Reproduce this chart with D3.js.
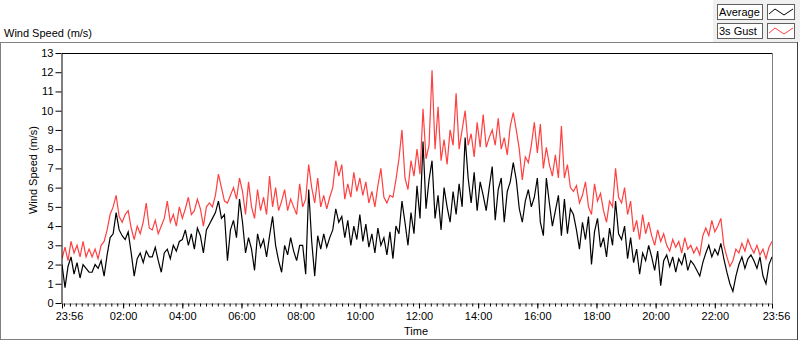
<!DOCTYPE html>
<html>
<meta charset="utf-8">
<head>
  <script src="https://d3js.org/d3.v7.min.js"></script>
  <style>
    body { margin:0; background:#fff; }
    text { font-family: "Liberation Sans", Arial, sans-serif; font-size:11px; fill:#000; }
  </style>
</head>
<body>
<script>
    // readings, one every ~6 min from 23:56 to 23:56 next day
    var average = [
	2.0,0.8,1.9,2.4,1.5,2.1,1.3,2.0,1.8,1.6,
	1.6,2.0,1.8,2.2,1.4,2.5,3.4,3.6,4.7,3.8,
	3.5,3.3,3.7,2.6,1.4,2.3,2.6,2.1,2.7,2.4,
	2.4,2.9,2.2,1.6,2.6,2.8,2.3,3.0,2.7,3.2,
	3.3,3.8,3.0,3.6,2.8,3.9,3.5,2.6,3.8,4.1,
	4.4,4.7,5.3,4.4,4.6,2.2,3.8,4.3,3.4,5.4,
	4.2,2.6,3.4,2.8,1.7,3.6,2.9,3.3,2.4,3.5,
	4.5,3.0,2.2,1.6,3.0,2.5,3.4,2.7,2.2,3.0,
	3.0,1.5,5.9,3.2,1.4,3.5,2.8,3.6,2.9,3.4,
	3.8,4.9,4.2,4.5,3.4,4.3,3.0,4.0,3.3,4.6,
	3.2,4.1,2.9,3.6,2.6,3.9,3.0,3.4,2.5,3.7,
	2.3,4.0,3.6,5.3,4.2,3.0,4.7,3.6,6.1,4.4,
	8.4,4.9,6.4,7.4,4.4,5.6,3.8,6.0,5.0,4.2,
	5.8,4.6,6.2,5.0,8.6,6.5,5.2,6.8,4.8,6.3,
	5.6,4.8,6.0,7.1,4.3,5.9,6.5,4.2,5.8,6.3,
	7.3,6.4,4.9,4.2,5.3,5.9,5.0,5.5,6.5,4.2,
	3.5,6.5,5.2,4.0,4.8,5.6,3.5,5.4,3.6,4.9,
	4.6,3.8,2.8,4.2,3.3,4.5,2.0,3.7,4.4,2.9,
	3.4,2.4,3.9,3.0,5.3,3.6,3.3,4.0,2.3,3.4,
	2.1,2.8,1.5,2.6,2.2,3.0,2.4,1.7,2.7,0.9,
	2.2,2.5,1.9,2.4,1.6,2.3,2.0,2.6,1.7,2.2,
	2.0,1.7,1.4,2.1,2.6,3.0,2.4,2.8,2.5,3.1,
	2.3,1.6,1.0,0.6,1.4,2.0,2.4,1.8,2.3,2.5,
	2.2,1.8,2.4,1.4,1.0,2.0,2.4
    ];
    var gust = [
	2.3,2.9,2.2,3.2,2.6,3.0,2.4,3.2,2.4,2.8,
	2.4,2.8,2.3,3.0,3.2,3.8,4.6,5.0,5.6,4.5,
	4.2,4.6,4.8,3.9,3.3,4.0,3.6,4.2,5.2,3.9,
	3.8,4.3,3.6,4.0,4.4,5.3,4.2,4.6,4.0,5.0,
	4.4,4.9,5.5,4.6,4.8,5.4,4.9,4.0,5.0,5.2,
	5.0,5.6,6.7,6.0,5.3,5.2,5.6,6.0,5.4,6.5,
	5.8,4.6,6.3,5.0,4.4,5.9,4.8,5.5,4.6,6.6,
	5.0,6.0,4.8,5.3,5.9,4.8,5.4,5.0,4.6,6.2,
	5.0,5.4,7.2,6.0,5.2,6.5,5.0,5.6,4.9,5.5,
	6.0,7.4,6.6,7.2,5.4,6.2,5.5,6.8,5.8,6.5,
	5.6,6.3,5.2,5.8,5.0,6.1,7.0,5.5,5.2,5.6,
	5.5,6.4,7.5,9.0,6.5,5.9,7.4,6.6,8.0,6.7,
	10.1,7.5,8.2,12.1,8.0,10.2,7.4,8.5,7.2,9.0,
	8.2,10.9,8.0,9.0,10.0,8.2,8.8,7.6,9.4,8.1,
	9.8,8.1,8.6,9.0,8.2,9.6,8.0,8.6,7.7,9.2,
	9.9,9.0,8.0,6.4,7.6,7.3,8.2,9.4,7.8,9.3,
	7.0,8.1,7.2,6.6,7.7,6.5,9.2,6.5,7.2,6.0,
	5.8,6.1,5.2,5.6,6.3,5.0,4.6,6.2,5.3,5.7,
	4.8,4.2,5.3,5.0,7.0,5.5,5.2,6.0,4.6,5.3,
	3.7,4.3,3.3,4.6,3.6,4.2,3.5,3.0,3.8,3.2,
	3.6,3.0,2.7,3.3,2.9,3.2,2.6,3.4,2.8,3.0,
	2.6,2.9,2.5,3.5,3.9,3.5,4.3,3.7,4.0,4.4,
	3.0,2.4,1.9,2.2,2.8,2.6,3.1,2.7,3.3,2.9,
	2.6,3.0,2.5,2.8,2.3,2.9,3.2
    ];
    var seriesNames = ['Average', '3s Gust'];
    var seriesColors = ['#000000', '#ff4040'];
    var yTicks = d3.range(0, 14);

    var W = 800, H = 342;
    var pL = 62, pR = 772, pT = 53, pB = 303;

    var t0 = new Date(2020, 0, 1, 23, 56);
    var t1 = d3.timeMinute.offset(t0, 1440);
    var step = 1440 / (average.length - 1);
    function timeAt(i) { return new Date(t0.getTime() + i * step * 60000) }

    var x = d3.scaleTime().domain([t0, t1]).range([pL, pR]);
    var y = d3.scaleLinear().domain([0, 13]).range([pB, pT]);

    var svg = d3.select('body').append('svg').attr('width', W).attr('height', H);

    // panel frame + legend area
    svg.append('rect').attr('x', 713).attr('y', 0).attr('width', 87).attr('height', 42).attr('fill', '#f0f0f0');
    svg.append('rect').attr('x', 0.5).attr('y', 42.5).attr('width', 797).attr('height', 297)
	.attr('fill', 'none').attr('stroke', '#808080');
    svg.append('line').attr('x1', 797.5).attr('x2', 797.5).attr('y1', 42).attr('y2', 340).attr('stroke', '#404040');

    svg.append('text').attr('x', 4).attr('y', 37).text('Wind Speed (m/s)');

    // legend
    var legend = svg.append('g');
    seriesNames.forEach(function(name, i) {
	var yy = 4 + i * 19;
	legend.append('rect').attr('x', 717.5).attr('y', yy + 0.5).attr('width', 45).attr('height', 15)
	    .attr('fill', '#fff').attr('stroke', '#606060');
	legend.append('text').attr('x', 719).attr('y', yy + 12).text(name);
	legend.append('rect').attr('x', 767.5).attr('y', yy + 0.5).attr('width', 27).attr('height', 15)
	    .attr('fill', '#fff').attr('stroke', '#606060');
	legend.append('path')
	    .attr('d', 'M769,' + (yy + 10) + 'L775,' + (yy + 5) + 'L784,' + (yy + 11) + 'L793,' + (yy + 5))
	    .attr('fill', 'none').attr('stroke', seriesColors[i]);
    });

    // plot area
    svg.append('clipPath').attr('id', 'clip').append('rect')
	.attr('x', pL).attr('y', pT).attr('width', pR - pL).attr('height', pB - pT);

    var line = d3.line().x((d, i) => x(timeAt(i))).y(d => y(d));
    var plot = svg.append('g').attr('clip-path', 'url(#clip)');
    plot.append('path').datum(gust).attr('d', line).attr('fill', 'none')
	.attr('stroke', seriesColors[1]).attr('stroke-width', 1.2);
    plot.append('path').datum(average).attr('d', line).attr('fill', 'none')
	.attr('stroke', seriesColors[0]).attr('stroke-width', 1.2);

    // borders
    svg.append('line').attr('x1', pL).attr('x2', pR).attr('y1', pT + 0.5).attr('y2', pT + 0.5).attr('stroke', '#000');
    svg.append('line').attr('x1', pR + 0.5).attr('x2', pR + 0.5).attr('y1', pT).attr('y2', pB).attr('stroke', '#808080');

    // y axis
    var yAxis = svg.append('g').attr('transform', 'translate(' + (pL - 0.5) + ',0)')
	.call(d3.axisLeft(y).tickValues(yTicks).tickSize(6).tickPadding(2).tickSizeOuter(0));
    yAxis.select('.domain').attr('stroke', '#000');
    yAxis.selectAll('text').style('font-size', '11px').attr('fill', '#000');

    // x axis: minor every 12 min, major every 2 h
    var minor = d3.timeMinute.every(12).range(t0, t1);
    var hours = d3.timeHour.every(2).range(d3.timeMinute.offset(t0, 60), t1);
    var major = [t0].concat(hours).concat([t1]);
    svg.append('g').attr('transform', 'translate(0,' + (pB + 0.5) + ')')
	.call(d3.axisBottom(x).tickValues(minor).tickSize(3).tickFormat('').tickSizeOuter(0))
	.select('.domain').attr('stroke', '#808080');
    var xAxis = svg.append('g').attr('transform', 'translate(0,' + (pB + 0.5) + ')')
	.call(d3.axisBottom(x).tickValues(major).tickSize(5).tickPadding(4).tickFormat(d3.timeFormat('%H:%M')));
    xAxis.select('.domain').remove();
    xAxis.selectAll('text').style('font-size', '11px').attr('fill', '#000');
    xAxis.selectAll('.tick line').attr('stroke', '#000');
    // keep end labels inside the frame like the original
    xAxis.selectAll('.tick text').attr('dx', (d, i) => i === 0 ? 7 : (i === major.length - 1 ? 4 : 0));

    svg.append('text').attr('x', 416).attr('y', 335).attr('text-anchor', 'middle').text('Time');
    svg.append('text').attr('transform', 'translate(37,170) rotate(-90)').attr('text-anchor', 'middle').text('Wind Speed (m/s)');
</script>
</body>
</html>
